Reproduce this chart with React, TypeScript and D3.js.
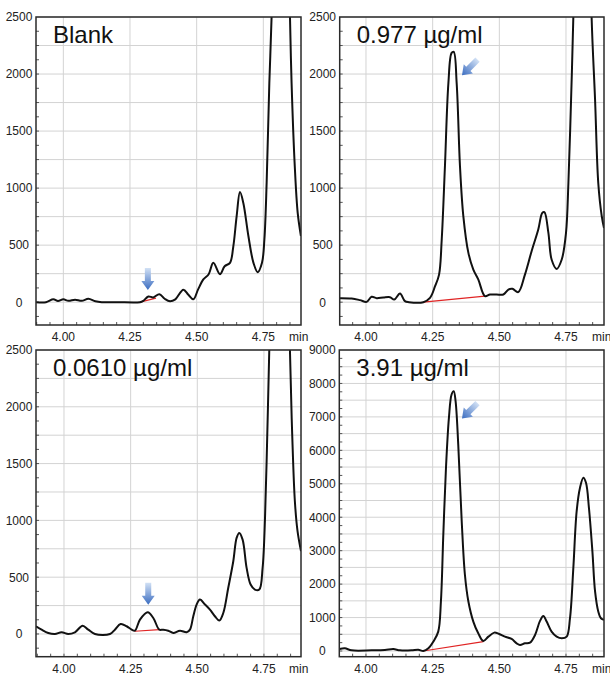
import { useEffect, useRef } from "react";
import * as d3 from "d3";

// Blank
const blankTime = [3.898, 3.935, 3.9625, 3.98, 4.0, 4.019, 4.044, 4.069, 4.094, 4.12, 4.144, 4.2, 4.2875, 4.3, 4.319, 4.337, 4.36, 4.38, 4.4, 4.42, 4.45, 4.469, 4.4875, 4.505, 4.525, 4.545, 4.5625, 4.5875, 4.605, 4.625, 4.6375, 4.65, 4.6625, 4.675, 4.694, 4.713, 4.729, 4.745, 4.754, 4.7625, 4.7725, 4.781, 4.795, 4.815, 4.835, 4.85, 4.856, 4.868, 4.879, 4.891];
const blankSignal = [0, 0, 25, 10, 25, 12, 22, 12, 30, 8, 0, 0, 0, 12, 50, 42, 70, 30, 8, 25, 110, 65, 25, 110, 200, 245, 345, 245, 315, 345, 490, 755, 965, 870, 580, 345, 263, 345, 550, 1050, 1920, 2500, 4200, 5000, 4100, 2500, 1920, 1190, 780, 580];
const blankBaseline = [[4.2875, 0], [4.3475, 35]];

// 0.977 µg/ml
const midTime = [3.901, 3.946, 3.9775, 4.0025, 4.021, 4.04, 4.065, 4.09, 4.106, 4.1275, 4.146, 4.161, 4.215, 4.24, 4.259, 4.274, 4.284, 4.296, 4.309, 4.321, 4.329, 4.34, 4.3525, 4.365, 4.384, 4.4025, 4.421, 4.446, 4.465, 4.49, 4.515, 4.534, 4.549, 4.571, 4.596, 4.621, 4.646, 4.661, 4.669, 4.684, 4.696, 4.715, 4.734, 4.75, 4.759, 4.769, 4.7775, 4.792, 4.812, 4.832, 4.846, 4.859, 4.871, 4.884, 4.8925];
const midSignal = [35, 32, 18, 3, 47, 35, 41, 44, 23, 76, 9, 0, 0, 38, 140, 242, 550, 1190, 1920, 2185, 2195, 1920, 1190, 755, 432, 286, 200, 53, 67, 67, 67, 111, 117, 88, 242, 447, 637, 783, 790, 607, 374, 292, 374, 607, 1045, 1775, 2500, 4300, 5000, 4200, 2500, 1775, 1045, 755, 650];
const midBaseline = [[4.215, 0], [4.446, 53]];

// 0.0610 µg/ml
const lowTime = [3.895, 3.916, 3.941, 3.966, 3.991, 4.016, 4.041, 4.07, 4.091, 4.116, 4.1725, 4.191, 4.2125, 4.235, 4.254, 4.266, 4.285, 4.314, 4.335, 4.3575, 4.3725, 4.391, 4.41, 4.435, 4.46, 4.4725, 4.485, 4.4975, 4.51, 4.529, 4.5475, 4.566, 4.5825, 4.5975, 4.616, 4.635, 4.6475, 4.6575, 4.67, 4.685, 4.7, 4.716, 4.7325, 4.745, 4.754, 4.7625, 4.77, 4.787, 4.808, 4.83, 4.8475, 4.856, 4.866, 4.876, 4.889];
const lowSignal = [68, 38, 9, 0, 15, 0, 15, 73, 38, 0, 0, 38, 88, 68, 38, 29, 126, 191, 141, 38, 38, 29, 9, 29, 15, 38, 156, 259, 303, 259, 214, 156, 118, 185, 405, 640, 846, 890, 831, 582, 435, 391, 391, 582, 1022, 1757, 2500, 4300, 5000, 4200, 2500, 1757, 1169, 905, 729];
const lowBaseline = [[4.266, 24], [4.3575, 38]];

// 3.91 µg/ml
const highTime = [3.901, 3.921, 3.946, 4.021, 4.071, 4.1025, 4.1275, 4.171, 4.196, 4.215, 4.234, 4.2525, 4.271, 4.281, 4.29, 4.3, 4.311, 4.321, 4.329, 4.336, 4.346, 4.359, 4.371, 4.384, 4.4025, 4.421, 4.44, 4.459, 4.481, 4.499, 4.521, 4.546, 4.565, 4.5775, 4.596, 4.615, 4.634, 4.6525, 4.665, 4.6775, 4.696, 4.715, 4.734, 4.7525, 4.765, 4.7775, 4.79, 4.8025, 4.815, 4.825, 4.836, 4.849, 4.859, 4.871, 4.881, 4.8925];
const highSignal = [60, 80, 20, 20, 30, 60, 20, 20, 40, 0, 80, 280, 580, 1480, 3480, 5480, 6970, 7670, 7770, 7470, 6170, 3880, 2280, 1480, 880, 530, 300, 430, 550, 510, 430, 360, 230, 180, 230, 250, 480, 900, 1050, 880, 580, 430, 380, 430, 980, 2480, 4180, 4880, 5180, 5030, 4280, 2980, 1780, 1180, 980, 930];
const highBaseline = [[4.215, 0], [4.44, 280]];

const panelTitles = ["Blank", "0.977 µg/ml", "0.0610 µg/ml", "3.91 µg/ml"];
const timeTicks = [4.0, 4.25, 4.5, 4.75];
const signalTicks = [0, 500, 1000, 1500, 2000, 2500];
const signalTicksHigh = [0, 1000, 2000, 3000, 4000, 5000, 6000, 7000, 8000, 9000];
// where each arrow points: [time, signal, rotation]
const arrowTargets = [[4.317, 107, 0], [4.36, 1990, 45], [4.316, 258, 0], [4.36, 6950, 45]];

const panels = [
  { time: blankTime, signal: blankSignal, baseline: blankBaseline, box: [36, 301, 17, 325], xDomain: [3.8975, 4.8913], yDomain: [-200, 2500], ticks: signalTicks, grid: 250 },
  { time: midTime, signal: midSignal, baseline: midBaseline, box: [339.7, 604, 17, 325], xDomain: [3.9014, 4.8925], yDomain: [-200, 2500], ticks: signalTicks, grid: 250 },
  { time: lowTime, signal: lowSignal, baseline: lowBaseline, box: [36, 301, 350, 656.7], xDomain: [3.895, 4.889], yDomain: [-200, 2500], ticks: signalTicks, grid: 250 },
  { time: highTime, signal: highSignal, baseline: highBaseline, box: [339.3, 604, 350, 656.7], xDomain: [3.9, 4.8925], yDomain: [-170, 9000], ticks: signalTicksHigh, grid: 500 },
];

const FONT = "'Liberation Sans', Arial, sans-serif";

const App = () => {
  const svgRef = useRef(null);

  useEffect(() => {
    const svg = d3.select(svgRef.current);
    svg.selectAll("*").remove();

    const defs = svg.append("defs");
    const grad = defs
      .append("linearGradient")
      .attr("id", "arrowGrad")
      .attr("x1", 0)
      .attr("y1", 0)
      .attr("x2", 0)
      .attr("y2", 1);
    grad.append("stop").attr("offset", "0%").attr("stop-color", "#d2e1f5");
    grad.append("stop").attr("offset", "100%").attr("stop-color", "#3a6cc0");

    svg.append("rect").attr("width", 610).attr("height", 675).attr("fill", "white");

    panels.forEach((p, i) => {
      const [left, right, top, bottom] = p.box;
      const x = d3.scaleLinear().domain(p.xDomain).range([left, right]);
      const y = d3.scaleLinear().domain(p.yDomain).range([bottom, top]);
      const g = svg.append("g");

      defs
        .append("clipPath")
        .attr("id", `clip${i}`)
        .append("rect")
        .attr("x", left)
        .attr("y", top)
        .attr("width", right - left)
        .attr("height", bottom - top);

      // grid
      const hLines = d3.range(0, p.yDomain[1] + 1, p.grid);
      g.append("g")
        .selectAll("line")
        .data(hLines)
        .join("line")
        .attr("x1", left)
        .attr("x2", right)
        .attr("y1", (d) => y(d))
        .attr("y2", (d) => y(d))
        .attr("stroke", "#d3d3d3")
        .attr("stroke-width", 1);
      g.append("g")
        .selectAll("line")
        .data(timeTicks)
        .join("line")
        .attr("x1", (d) => x(d))
        .attr("x2", (d) => x(d))
        .attr("y1", top)
        .attr("y2", bottom)
        .attr("stroke", "#d3d3d3")
        .attr("stroke-width", 1);

      // minor ticks
      const yMinor = d3.range(Math.ceil(p.yDomain[0] / (p.grid / 2)) * (p.grid / 2), p.yDomain[1], p.grid / 2);
      g.append("g")
        .selectAll("line")
        .data(yMinor)
        .join("line")
        .attr("x1", left)
        .attr("x2", left + 3)
        .attr("y1", (d) => y(d))
        .attr("y2", (d) => y(d))
        .attr("stroke", "#555")
        .attr("stroke-width", 1);
      const xMinor = d3.range(3.9, p.xDomain[1], 0.05).filter((d) => d > p.xDomain[0]);
      g.append("g")
        .selectAll("line")
        .data(xMinor)
        .join("line")
        .attr("x1", (d) => x(d))
        .attr("x2", (d) => x(d))
        .attr("y1", bottom)
        .attr("y2", bottom - 3)
        .attr("stroke", "#555")
        .attr("stroke-width", 1);

      // tick labels
      g.append("g")
        .selectAll("text")
        .data(p.ticks)
        .join("text")
        .attr("x", left - 17)
        .attr("y", (d) => y(d))
        .attr("dy", "0.36em")
        .attr("text-anchor", "middle")
        .attr("font-family", FONT)
        .attr("font-size", 12)
        .attr("fill", "#222")
        .text((d) => d);
      g.append("g")
        .selectAll("text")
        .data(timeTicks)
        .join("text")
        .attr("x", (d) => x(d))
        .attr("y", bottom + 16)
        .attr("text-anchor", "middle")
        .attr("font-family", FONT)
        .attr("font-size", 12)
        .attr("fill", "#222")
        .text((d) => d.toFixed(2));
      g.append("text")
        .attr("x", right - 12)
        .attr("y", bottom + 16)
        .attr("font-family", FONT)
        .attr("font-size", 12)
        .attr("fill", "#222")
        .text("min");

      // red baseline
      g.append("path")
        .datum(p.baseline)
        .attr("fill", "none")
        .attr("stroke", "#e02424")
        .attr("stroke-width", 1.2)
        .attr("d", d3.line().x((d) => x(d[0])).y((d) => y(d[1])));

      // trace
      const pts = p.time.map((t, k) => [t, p.signal[k]]);
      g.append("path")
        .datum(pts)
        .attr("clip-path", `url(#clip${i})`)
        .attr("fill", "none")
        .attr("stroke", "#111")
        .attr("stroke-width", 2)
        .attr("stroke-linejoin", "round")
        .attr(
          "d",
          d3
            .line()
            .curve(d3.curveCatmullRom.alpha(0.5))
            .x((d) => x(d[0]))
            .y((d) => y(d[1]))
        );

      // frame
      g.append("rect")
        .attr("x", left)
        .attr("y", top)
        .attr("width", right - left)
        .attr("height", bottom - top)
        .attr("fill", "none")
        .attr("stroke", "#2a2a2a")
        .attr("stroke-width", 1.5);

      // title
      g.append("text")
        .attr("x", left + 17)
        .attr("y", top + 26)
        .attr("font-family", FONT)
        .attr("font-size", 24)
        .attr("fill", "#111")
        .text(panelTitles[i]);

      // arrow
      const [at, av, rot] = arrowTargets[i];
      g.append("path")
        .attr("transform", `translate(${x(at)},${y(av)}) rotate(${rot})`)
        .attr("d", "M-3,-22 L3,-22 L3,-9 L6.5,-9 L0,0 L-6.5,-9 L-3,-9 Z")
        .attr("fill", "url(#arrowGrad)");
    });
  }, []);

  return (
    <svg
      ref={svgRef}
      width={610}
      height={675}
      style={{ position: "absolute", left: 0, top: 0 }}
    />
  );
};

export default App;
